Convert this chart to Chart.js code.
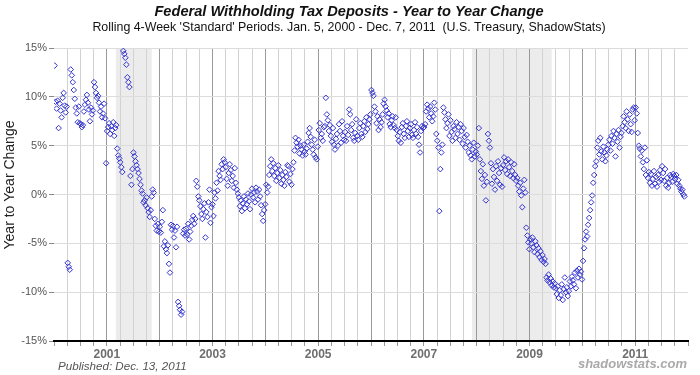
<!DOCTYPE html>
<html>
<head>
<meta charset="utf-8">
<script src="https://cdn.jsdelivr.net/npm/chart.js@4/dist/chart.umd.min.js"></script>
<style>
  body { margin: 0; background: #fff; }
  #wrap { width: 700px; height: 375px; }
</style>
</head>
<body>
<div id="wrap"><canvas id="canvas" width="700" height="375"></canvas></div>
<script>
// weekly year-over-year change (%), rolling 4-week periods, one array per calendar year
const y2000 = [13.2, 9.5, 8.8, 9.6, 6.8, 9.3, 8.6, 7.9, 9.9, 10.4, 9.1, 8.4, 9.0,
  -7.0, -7.4, -7.7, 12.8, 12.2, 11.5, 10.7, 9.8, 8.9, 8.3, 7.4, 9.0, 7.3,
  7.2, 6.9, 7.1, 8.5, 9.2, 9.7, 10.2, 9.4, 8.7, 7.5, 8.9, 8.2, 8.6,
  11.5, 11.0, 10.4, 9.9, 10.1, 9.4, 8.5, 9.0, 7.9, 8.3, 9.3, 7.8, 3.2];
const y2001 = [6.5, 6.9, 7.3, 6.2, 7.0, 6.6, 7.4, 6.0, 6.8, 7.1, 4.7, 4.0, 3.7,
  3.3, 2.8, 2.3, 14.7, 14.4, 14.0, 13.3, 12.0, 11.5, 11.0, 1.9, 1.0, 2.6,
  4.3, 3.9, 3.4, 3.0, 2.6, 2.2, 1.6, 1.0, 0.4, 0.1, -0.8, -0.6, -1.1,
  -0.3, -1.4, -1.8, -2.3, -1.6, -0.2, 0.5, 0.2, -2.5, -3.2, -3.7, -3.0, -3.8];
const y2002 = [-3.3, -3.9, -2.8, -1.6, -5.3, -4.8, -5.6, -6.0, -5.2, -7.1, -8.0, -3.1, -3.6,
  -3.2, -4.4, -3.7, -5.4, -3.3, -11.0, -11.4, -11.8, -12.3, -12.0, -4.0, -3.6, -4.2,
  -3.5, -4.1, -3.0, -4.6, -3.8, -3.2, -2.6, -2.2, -3.0, -2.5, 1.4, 0.8, -0.2,
  -0.6, -1.2, -2.0, -2.5, -1.5, -0.9, -4.4, -1.8, -2.3, -0.8, 0.5, -2.9, -1.3];
const y2003 = [-1.0, -2.2, 0.2, -0.4, 1.2, 0.4, 2.4, 1.9, 1.5, 3.1, 2.6, 3.6, 3.3,
  2.8, 1.6, 0.9, 2.2, 3.1, 2.5, 1.4, 1.9, 0.7, 2.7, 1.2, 0.5, 0.1,
  -0.3, -1.2, -0.6, -1.7, -0.9, -0.2, -1.4, -0.5, -1.0, 0.1, -0.7, -1.5, 0.0,
  0.6, -0.3, 0.2, -0.8, 0.7, 0.3, -0.5, 0.5, -0.2, -1.1, -2.0, -2.7, -1.6, -1.0];
const y2004 = [1.0, 0.2, 0.8, 2.0, 2.9, 3.6, 2.4, 3.2, 1.9, 2.7, 1.4, 2.2, 3.0,
  1.7, 2.5, 1.1, 2.0, 1.5, 0.9, 2.3, 1.8, 3.0, 2.9, 1.3, 2.1, 1.0,
  2.6, 3.3, 4.5, 5.8, 5.3, 4.9, 5.6, 4.2, 5.0, 4.6, 4.0, 5.1, 4.4,
  4.1, 4.7, 5.4, 6.3, 6.8, 5.9, 5.1, 4.6, 4.1, 5.6, 3.8, 3.6, 4.9];
const y2005 = [6.6, 7.3, 5.8, 6.2, 5.5, 6.9, 7.0, 9.9, 8.2, 7.6, 6.5, 7.1, 6.0,
  5.4, 6.8, 5.1, 4.6, 5.7, 6.2, 5.0, 7.2, 6.5, 5.3, 7.5, 6.0, 5.6,
  6.4, 5.5, 7.0, 6.1, 8.7, 8.2, 6.6, 7.2, 5.8, 5.5, 6.3, 7.7, 6.0,
  5.6, 6.8, 7.3, 6.2, 5.9, 7.0, 7.5, 6.4, 7.9, 6.7, 7.2, 7.7, 8.2];
const y2006 = [10.7, 10.4, 10.1, 9.0, 8.5, 7.3, 8.0, 6.6, 7.7, 6.9, 7.4, 8.2, 9.3,
  9.7, 9.0, 8.6, 7.9, 8.3, 7.2, 6.9, 7.6, 8.0, 7.1, 6.8, 7.9, 6.6,
  6.0, 5.5, 6.4, 5.3, 6.9, 7.3, 6.2, 5.8, 7.0, 7.5, 6.5, 5.9, 6.8,
  7.2, 6.1, 5.8, 6.6, 7.4, 6.2, 6.9, 5.9, 5.1, 4.3, 6.5, 7.0, 6.8];
const y2007 = [6.9, 7.2, 8.5, 9.2, 8.8, 7.9, 9.0, 8.3, 7.5, 8.0, 9.4, 8.7, 6.2,
  5.5, 4.8, -1.7, 2.6, 4.3, 5.1, 8.9, 8.4, 7.7, 6.8, 7.3, 8.2, 6.0,
  7.6, 6.4, 5.5, 7.0, 6.7, 5.8, 7.4, 6.2, 6.9, 5.6, 7.2, 6.5, 5.2,
  6.8, 5.9, 4.8, 6.1, 5.4, 4.3, 5.0, 4.0, 3.6, 4.6, 5.3, 3.9, 4.4];
const y2008 = [4.1, 5.0, 6.8, 3.6, 2.4, 1.6, 3.1, 0.9, 2.0, -0.6, 1.3, 6.2, 5.5,
  4.8, 3.2, 1.1, 2.6, 1.8, 0.5, 2.9, 1.4, 3.4, 2.2, 1.0, 2.7, 0.8,
  3.0, 3.8, 2.5, 3.4, 2.1, 3.6, 2.8, 1.9, 3.3, 2.4, 1.7, 3.1, 2.0,
  1.4, 1.7, 0.9, 0.3, 1.2, -0.1, -1.3, 0.6, 1.5, 0.2, -3.4, -4.2, -4.9, -5.6];
const y2009 = [-4.6, -5.0, -4.4, -5.4, -5.9, -4.8, -5.2, -6.1, -5.5, -6.4, -5.8, -6.7, -6.2,
  -6.9, -6.6, -7.1, -8.5, -8.8, -8.2, -9.0, -8.6, -9.3, -8.9, -9.5, -9.1, -9.6,
  -10.2, -9.4, -10.6, -9.8, -10.3, -9.2, -10.8, -9.7, -8.5, -10.0, -9.5, -10.4, -9.9,
  -8.9, -9.4, -8.4, -8.8, -9.2, -8.0, -9.6, -7.8, -8.5, -7.6, -8.2, -7.9, -8.7];
const y2010 = [-6.8, -5.5, -4.6, -3.8, -4.3, -3.1, -2.4, -1.6, -0.8, -0.1, 1.2, 2.0, 2.9,
  3.4, 4.8, 5.5, 4.1, 5.8, 4.4, 3.6, 4.9, 4.3, 3.4, 4.0, 4.6, 5.1,
  5.6, 4.5, 6.0, 5.2, 6.5, 5.8, 3.9, 6.2, 5.4, 6.6, 4.8, 5.9, 6.3,
  7.0, 8.0, 7.4, 6.8, 8.5, 7.7, 6.5, 8.2, 7.2, 6.4, 8.7, 8.9, 7.6];
const y2011 = [8.9, 8.3, 6.3, 5.0, 4.7, 3.9, 4.5, 3.3, 2.6, 4.8, 2.0, 3.5, 1.7,
  2.3, 1.2, 2.1, 0.9, 1.6, 2.4, 1.1, 1.8, 0.8, 2.0, 1.3, 2.5, 1.5,
  2.9, 2.2, 1.4, 2.6, 0.9, 1.7, 0.7, 1.2, 2.0, 1.8, 1.3, 2.1, 1.9,
  1.6, 2.0, 1.1, 1.5, 0.9, 0.6, 0.3, 0.5, 0.0, -0.2];

const years = [2000, 2001, 2002, 2003, 2004, 2005, 2006, 2007, 2008, 2009, 2010, 2011];
const valuesByYear = [y2000, y2001, y2002, y2003, y2004, y2005, y2006, y2007, y2008, y2009, y2010, y2011];
const yTicks = [-15, -10, -5, 0, 5, 10, 15];
const recessions = [[2001.17, 2001.85], [2007.91, 2009.42]];

// weekly points fall on Wednesdays; x is a decimal year
function weekX(year, i) {
  let first = 0;
  while (new Date(Date.UTC(year, 0, 1 + first)).getUTCDay() !== 3) first++;
  const len = (year % 4 === 0) ? 366 : 365;
  return year + (first + 7 * i) / len;
}

const points = [];
years.forEach((yr, k) => {
  valuesByYear[k].forEach((v, i) => points.push({ x: weekX(yr, i), y: v }));
});

const FONT = '"Liberation Sans", Arial, Helvetica, sans-serif';

const decor = {
  id: 'decor',
  beforeDraw(chart) {
    const { ctx, chartArea: a, scales: { x } } = chart;
    ctx.save();
    ctx.fillStyle = '#ececec';
    recessions.forEach(([s, e]) => {
      const x0 = x.getPixelForValue(s), x1 = x.getPixelForValue(e);
      ctx.fillRect(x0, a.top, x1 - x0, a.bottom - a.top);
    });
    ctx.restore();
  },
  afterDraw(chart) {
    const ctx = chart.ctx;
    ctx.save();
    ctx.textBaseline = 'middle';
    ctx.textAlign = 'center';
    ctx.fillStyle = '#111';
    ctx.font = 'italic bold 14.6px ' + FONT;
    ctx.fillText('Federal Withholding Tax Deposits - Year to Year Change', 349, 12);
    ctx.font = '12.4px ' + FONT;
    ctx.fillText("Rolling 4-Week 'Standard' Periods. Jan. 5, 2000 - Dec. 7, 2011  (U.S. Treasury, ShadowStats)", 349, 28);

    ctx.save();
    ctx.translate(10, 185);
    ctx.rotate(-Math.PI / 2);
    ctx.font = '14px ' + FONT;
    ctx.fillStyle = '#222';
    ctx.fillText('Year to Year Change', 0, 0);
    ctx.restore();

    ctx.textAlign = 'left';
    ctx.font = 'italic 11.6px ' + FONT;
    ctx.fillStyle = '#555';
    ctx.fillText('Published: Dec. 13, 2011', 58, 367);
    ctx.textAlign = 'right';
    ctx.font = 'italic bold 13px ' + FONT;
    ctx.fillStyle = '#aaaaaa';
    ctx.fillText('shadowstats.com', 687, 364);
    ctx.restore();
  }
};

new Chart(document.getElementById('canvas'), {
  type: 'scatter',
  data: {
    datasets: [{
      data: points,
      pointStyle: 'rectRot',
      pointRadius: 2.8,
      borderWidth: 1,
      borderColor: '#3535cf',
      backgroundColor: 'rgba(0,0,0,0)'
    }]
  },
  options: {
    responsive: false,
    animation: false,
    devicePixelRatio: 1,
    layout: { autoPadding: false, padding: { top: 48, right: 12, bottom: 0, left: 0 } },
    plugins: { legend: { display: false }, tooltip: { enabled: false } },
    scales: {
      x: {
        type: 'linear',
        min: 2000,
        max: 2012,
        afterFit: s => { s.height = 34; },
        border: { color: '#000', width: 2 },
        grid: {
          tickLength: 5,
          color: c => {
            const v = c.tick.value;
            if (v === 2000 || v === 2012) return 'rgba(0,0,0,0)';
            return Number.isInteger(v) ? '#9a9a9a' : '#d2d2d2';
          },
          tickColor: '#999'
        },
        ticks: {
          stepSize: 0.25,
          autoSkip: false,
          maxRotation: 0,
          padding: 1,
          color: '#6e6e6e',
          font: { family: FONT, size: 12, weight: 'bold' },
          callback: v => (Number.isInteger(v) && v % 2 === 1) ? String(v) : ''
        }
      },
      y: {
        min: -15,
        max: 15,
        afterFit: s => { s.width = 54; },
        afterBuildTicks: s => { s.ticks = yTicks.map(v => ({ value: v })); },
        border: { display: false },
        grid: { color: '#dcdcdc', tickLength: 5, tickColor: '#888' },
        ticks: {
          padding: 2,
          color: '#555',
          font: { family: FONT, size: 11 },
          callback: v => v + '%'
        }
      }
    }
  },
  plugins: [decor]
});
</script>
</body>
</html>
